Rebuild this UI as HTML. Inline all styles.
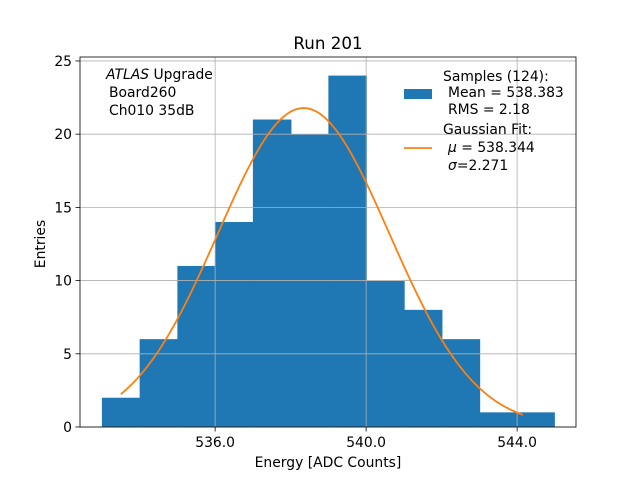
<!DOCTYPE html>
<html><head><meta charset="utf-8"><style>
body{margin:0;background:#fff}
svg{display:block;font-family:"DejaVu Sans","Liberation Sans",sans-serif}
</style></head><body>
<svg id="chart" width="640" height="480" viewBox="0 0 640 480">
<rect width="640" height="480" fill="#fff"/>
<g id="bars"></g>
<g id="grid"></g>
<path id="fit" fill="none" stroke="#ff7f0e" stroke-width="1.8"/>
<g id="axes"></g>
<text x="328" y="49" font-size="16.7" text-anchor="middle">Run 201</text>
<text x="328" y="467" font-size="13.9" text-anchor="middle">Energy [ADC Counts]</text>
<text transform="translate(45,244) rotate(-90)" font-size="13.9" text-anchor="middle">Entries</text>
<g font-size="13.9">
<text x="106" y="79"><tspan font-style="italic">ATLAS</tspan> Upgrade</text>
<text x="109" y="97">Board260</text>
<text x="109" y="115">Ch010 35dB</text>
</g>
<g font-size="13.9">
<rect x="404" y="89" width="28" height="10" fill="#1f77b4"/>
<text x="443" y="81">Samples (124):</text>
<text x="448" y="97">Mean = 538.383</text>
<text x="448" y="114">RMS = 2.18</text>
<line x1="404" y1="148" x2="432" y2="148" stroke="#ff7f0e" stroke-width="1.8"/>
<text x="443" y="134">Gaussian Fit:</text>
<text x="448" y="152"><tspan font-style="italic">μ</tspan> = 538.344</text>
<text x="448" y="170"><tspan font-style="italic">σ</tspan>=2.271</text>
</g>
</svg>
<script>
const binEdges=[533,534,535,536,537,538,539,540,541,542,543,544,545];
const counts=[2,6,11,14,21,20,24,10,8,6,1,1];
const xTicks=[536,540,544];
const xTickLabels=["536.0","540.0","544.0"];
const yTicks=[0,5,10,15,20,25];
const fitMu=538.344, fitSigma=2.271, fitN=124, fitRange=[533.5,544.15];
const L=80,R=576,T=57,B=427, xmin=532.42,xmax=545.56,ymin=0,ymax=25.27;
const X=v=>L+(v-xmin)/(xmax-xmin)*(R-L);
const Y=v=>B-(v-ymin)/(ymax-ymin)*(B-T);
const NS="http://www.w3.org/2000/svg";
function mk(t,a,p){const e=document.createElementNS(NS,t);for(const k in a)e.setAttribute(k,a[k]);p.appendChild(e);return e;}
const bars=document.getElementById('bars');
counts.forEach((c,i)=>{const x0=X(binEdges[i]),x1=X(binEdges[i+1]);
const last=i===counts.length-1;
const r=mk('rect',{x:x0,y:Y(c),width:x1-x0+(last?0:0.8),height:Y(0)-Y(c),fill:'#1f77b4'},bars);

});
const grid=document.getElementById('grid'),axes=document.getElementById('axes');
xTicks.forEach((v,i)=>{const l=mk('line',{x1:X(v),x2:X(v),y1:T,y2:B,stroke:'#b0b0b0','stroke-width':0.8},grid);


mk('line',{x1:X(v),x2:X(v),y1:B,y2:B+4.5,stroke:'#000','stroke-width':0.8},axes);
const t=mk('text',{x:X(v),y:B+20,'font-size':13.9,'text-anchor':'middle'},axes);t.textContent=xTickLabels[i];

});
yTicks.forEach(v=>{const l=mk('line',{x1:L,x2:R,y1:Y(v),y2:Y(v),stroke:'#b0b0b0','stroke-width':0.8},grid);


mk('line',{x1:L-4.5,x2:L,y1:Y(v),y2:Y(v),stroke:'#000','stroke-width':0.8},axes);
const t=mk('text',{x:L-8,y:Y(v)+5,'font-size':13.9,'text-anchor':'end'},axes);t.textContent=v;

});
mk('rect',{x:L,y:T,width:R-L,height:B-T,fill:'none',stroke:'#000','stroke-width':0.8},axes);
let d='';for(let k=0;k<=200;k++){const v=fitRange[0]+(fitRange[1]-fitRange[0])*k/200;
const y=fitN/(Math.sqrt(2*Math.PI)*fitSigma)*Math.exp(-0.5*((v-fitMu)/fitSigma)**2);
d+=(k?'L':'M')+X(v).toFixed(2)+','+Y(y).toFixed(2);}
document.getElementById('fit').setAttribute('d',d);
</script>
</body></html>
